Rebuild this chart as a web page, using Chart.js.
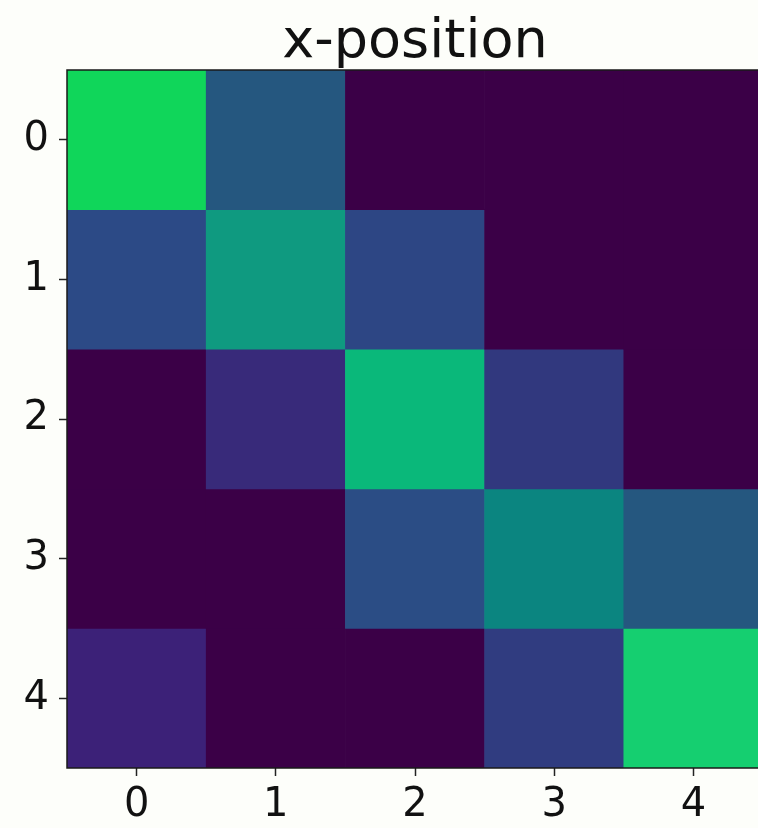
<!DOCTYPE html>
<html>
<head>
<meta charset="utf-8">
<script src="https://cdn.jsdelivr.net/npm/chart.js@4/dist/chart.umd.min.js"></script>
<style>
  html, body { margin: 0; padding: 0; background: #fdfefa; overflow: hidden; }
  #wrap { width: 830px; height: 828px; }
  canvas { display: block; }
</style>
</head>
<body>
<div id="wrap"><canvas id="c" width="830" height="828"></canvas></div>
<script>
// Column / row labels of the grid
const xLabels = ['0', '1', '2', '3', '4'];
const yTicks = [0, 1, 2, 3, 4];

// Cell values, one array per row (row index = y-position)
const row0 = [0.70, 0.30, 0.00, 0.00, 0.00];
const row1 = [0.25, 0.50, 0.24, 0.00, 0.00];
const row2 = [0.00, 0.17, 0.63, 0.20, 0.00];
const row3 = [0.00, 0.00, 0.26, 0.45, 0.30];
const row4 = [0.15, 0.00, 0.00, 0.21, 0.66];
const rows = [row0, row1, row2, row3, row4];

// Viridis-like colour ramp (value -> colour)
const rampStops = [
  [0.00, [59, 0, 71]],
  [0.15, [60, 33, 120]],
  [0.20, [49, 56, 126]],
  [0.25, [44, 74, 134]],
  [0.30, [37, 87, 127]],
  [0.45, [11, 133, 128]],
  [0.50, [15, 154, 128]],
  [0.63, [10, 184, 122]],
  [0.66, [21, 207, 112]],
  [0.70, [16, 214, 90]]
];
function rampColor(v) {
  if (v <= rampStops[0][0]) return 'rgb(' + rampStops[0][1].join(',') + ')';
  for (let i = 1; i < rampStops.length; i++) {
    const [v1, c1] = rampStops[i];
    const [v0, c0] = rampStops[i - 1];
    if (v <= v1) {
      const t = (v - v0) / (v1 - v0);
      const c = c0.map((a, k) => Math.round(a + (c1[k] - a) * t));
      return 'rgb(' + c.join(',') + ')';
    }
  }
  return 'rgb(' + rampStops[rampStops.length - 1][1].join(',') + ')';
}

// Each row becomes one dataset of floating bars spanning [row-0.5, row+0.5]
const datasets = rows.map((vals, r) => ({
  label: 'row ' + r,
  data: vals.map(() => [r - 0.5, r + 0.5]),
  values: vals,
  backgroundColor: vals.map(rampColor),
  borderWidth: 0,
  grouped: false,
  barPercentage: 1,
  categoryPercentage: 1,
  yAxisID: 'y'
}));

// Draws the axes frame around the plotting area
const framePlugin = {
  id: 'frame',
  afterDatasetsDraw(chart) {
    const { ctx, chartArea: a } = chart;
    ctx.save();
    ctx.strokeStyle = '#1a1a1a';
    ctx.lineWidth = 1.5;
    ctx.strokeRect(a.left, a.top, a.right - a.left, a.bottom - a.top);
    ctx.restore();
  }
};

const tickFont = { family: 'DejaVu Sans', size: 40 };

new Chart(document.getElementById('c'), {
  type: 'bar',
  data: { labels: xLabels, datasets },
  options: {
    responsive: false,
    animation: false,
    devicePixelRatio: 1,
    layout: { padding: 0 },
    plugins: {
      legend: { display: false },
      tooltip: { enabled: false },
      title: {
        display: true,
        text: 'x-position',
        color: '#111',
        font: { family: 'DejaVu Sans', size: 54, lineHeight: 1.0, weight: 'normal' },
        padding: { top: 16, bottom: 0 }
      }
    },
    scales: {
      x: {
        type: 'category',
        offset: true,
        grid: { display: true, drawOnChartArea: false, drawTicks: true, tickLength: 8, tickWidth: 1.5, tickColor: '#222', offset: false },
        border: { display: false },
        ticks: { color: '#111', font: tickFont, padding: 6, maxRotation: 0 },
        afterFit(s) { s.height = 60; }
      },
      y: {
        type: 'linear',
        reverse: true,
        min: -0.5,
        max: 4.5,
        afterBuildTicks(s) { s.ticks = yTicks.map(v => ({ value: v })); },
        grid: { display: true, drawOnChartArea: false, drawTicks: true, tickLength: 8, tickWidth: 1.5, tickColor: '#222' },
        border: { display: false },
        ticks: { color: '#111', font: tickFont, padding: 10, callback: v => String(v) },
        afterFit(s) { s.width = 67; }
      },
      // empty right-hand margin so the title stays centred over the grid
      yRight: {
        type: 'linear',
        position: 'right',
        display: true,
        grid: { display: false },
        border: { display: false },
        ticks: { display: false },
        afterFit(s) { s.width = 67; }
      }
    }
  },
  plugins: [framePlugin]
});
</script>
</body>
</html>
